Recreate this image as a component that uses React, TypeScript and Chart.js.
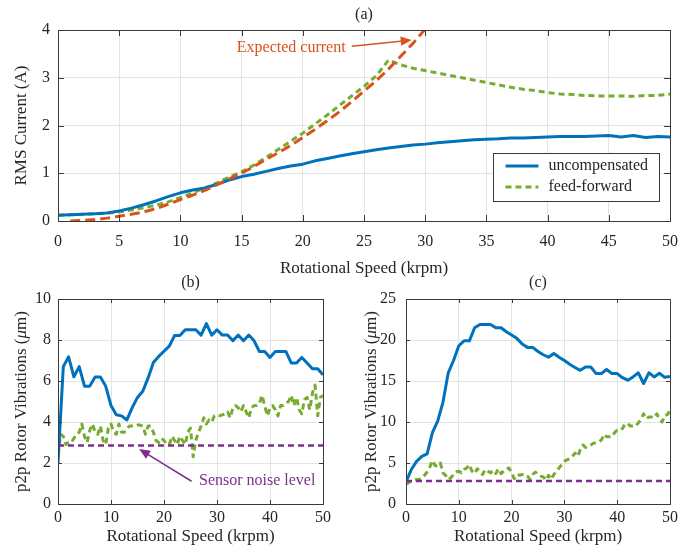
import React, { useEffect, useRef } from 'react';
import { Chart, registerables } from 'chart.js';

Chart.register(...registerables);

const SERIF = '"Liberation Serif", "Times New Roman", Times, serif';
const TEXT = '#262626';
const GRID = '#e4e4e4';
const BOX = '#3a3a3a';
const BLUE = '#0072BD';
const GREEN = '#77AC30';
const ORANGE = '#D95319';
const PURPLE = '#7E2F8E';

// ---------------- (a) RMS current ----------------
const A_SPEED = [0, 1, 2, 3, 4, 5, 6, 7, 8, 9, 10, 11, 12, 13, 14, 15, 16, 17, 18, 19, 20, 21, 22, 23, 24, 25, 26, 27, 28, 29, 30, 31, 32, 33, 34, 35, 36, 37, 38, 39, 40, 41, 42, 43, 44, 45, 46, 47, 48, 49, 50];
const A_UNCOMP = [0.12, 0.13, 0.14, 0.15, 0.17, 0.21, 0.27, 0.34, 0.42, 0.51, 0.59, 0.65, 0.69, 0.77, 0.86, 0.93, 0.98, 1.04, 1.1, 1.15, 1.19, 1.26, 1.31, 1.36, 1.41, 1.45, 1.49, 1.53, 1.56, 1.59, 1.61, 1.64, 1.66, 1.68, 1.7, 1.71, 1.72, 1.74, 1.74, 1.75, 1.76, 1.77, 1.77, 1.77, 1.78, 1.79, 1.76, 1.79, 1.75, 1.77, 1.76];
const A_FEEDFWD = [0.12, 0.13, 0.14, 0.15, 0.16, 0.19, 0.23, 0.28, 0.33, 0.4, 0.49, 0.59, 0.69, 0.8, 0.92, 1.03, 1.17, 1.33, 1.5, 1.67, 1.84, 2.03, 2.22, 2.42, 2.62, 2.82, 3.04, 3.37, 3.27, 3.2, 3.15, 3.1, 3.05, 3.0, 2.95, 2.9, 2.85, 2.8, 2.76, 2.73, 2.69, 2.66, 2.65, 2.63, 2.62, 2.62, 2.62, 2.61, 2.63, 2.63, 2.66];
const A_EXP_SPEED = [1, 2, 3, 4, 5, 6, 7, 8, 9, 10, 11, 12, 13, 14, 15, 16, 17, 18, 19, 20, 21, 22, 23, 24, 25, 26, 27, 28, 29, 30];
const A_EXPECTED = [0.0, 0.01, 0.03, 0.06, 0.1, 0.14, 0.19, 0.26, 0.35, 0.45, 0.54, 0.64, 0.76, 0.88, 1.0, 1.14, 1.29, 1.43, 1.58, 1.75, 1.92, 2.1, 2.29, 2.5, 2.72, 2.94, 3.18, 3.45, 3.72, 4.02];

// ---------------- (b) rotor vibrations ----------------
const B_SPEED = [0, 1, 2, 3, 4, 5, 6, 7, 8, 9, 10, 11, 12, 13, 14, 15, 16, 17, 18, 19, 20, 21, 22, 23, 24, 25, 26, 27, 28, 29, 30, 31, 32, 33, 34, 35, 36, 37, 38, 39, 40, 41, 42, 43, 44, 45, 46, 47, 48, 49, 50];
const B_UNCOMP = [2.0, 6.7, 7.18, 6.2, 6.7, 5.75, 5.75, 6.2, 6.2, 5.75, 4.8, 4.35, 4.3, 4.1, 4.7, 5.2, 5.5, 6.15, 6.9, 7.2, 7.45, 7.7, 8.22, 8.22, 8.5, 8.5, 8.5, 8.24, 8.8, 8.24, 8.5, 8.24, 8.24, 7.96, 8.24, 7.96, 8.24, 7.96, 7.44, 7.44, 7.15, 7.44, 7.44, 7.44, 6.88, 6.88, 7.15, 6.88, 6.6, 6.6, 6.3];
const HALF_SPEED = [0, 0.5, 1, 1.5, 2, 2.5, 3, 3.5, 4, 4.5, 5, 5.5, 6, 6.5, 7, 7.5, 8, 8.5, 9, 9.5, 10, 10.5, 11, 11.5, 12, 12.5, 13, 13.5, 14, 14.5, 15, 15.5, 16, 16.5, 17, 17.5, 18, 18.5, 19, 19.5, 20, 20.5, 21, 21.5, 22, 22.5, 23, 23.5, 24, 24.5, 25, 25.5, 26, 26.5, 27, 27.5, 28, 28.5, 29, 29.5, 30, 30.5, 31, 31.5, 32, 32.5, 33, 33.5, 34, 34.5, 35, 35.5, 36, 36.5, 37, 37.5, 38, 38.5, 39, 39.5, 40, 40.5, 41, 41.5, 42, 42.5, 43, 43.5, 44, 44.5, 45, 45.5, 46, 46.5, 47, 47.5, 48, 48.5, 49, 49.5, 50];
const B_FEEDFWD = [2.4, 3.4, 3.3, 2.9, 3.0, 3.0, 3.2, 3.4, 3.5, 3.9, 3.3, 3.0, 3.6, 3.9, 3.5, 3.4, 3.8, 3.1, 2.9, 3.7, 3.9, 3.5, 3.4, 3.9, 3.5, 3.5, 3.7, 3.8, 3.8, 3.8, 3.85, 3.85, 3.8, 3.4, 3.8, 3.8, 3.5, 3.1, 3.0, 3.2, 3.1, 2.9, 2.9, 3.3, 3.1, 2.9, 3.3, 3.1, 2.9, 3.5, 3.7, 2.3, 3.1, 3.5, 3.8, 4.2, 3.9, 4.1, 4.0, 4.3, 4.3, 4.3, 4.35, 4.4, 4.5, 4.2, 4.7, 4.8, 4.7, 4.5, 4.8, 4.5, 4.2, 4.7, 4.8, 4.8, 4.9, 5.3, 4.8, 4.3, 4.7, 4.8, 4.6, 4.3, 4.8, 4.8, 4.9, 5.0, 5.3, 4.8, 5.2, 4.6, 4.4, 5.1, 5.2, 4.6, 5.4, 5.8, 4.3, 5.2, 5.3];
const NOISE_SPEED = [0, 50];
const B_NOISE = [2.85, 2.85];

// ---------------- (c) rotor vibrations ----------------
const C_SPEED = [0, 1, 2, 3, 4, 5, 6, 7, 8, 9, 10, 11, 12, 13, 14, 15, 16, 17, 18, 19, 20, 21, 22, 23, 24, 25, 26, 27, 28, 29, 30, 31, 32, 33, 34, 35, 36, 37, 38, 39, 40, 41, 42, 43, 44, 45, 46, 47, 48, 49, 50];
const C_UNCOMP = [2.7, 4.2, 5.2, 5.8, 6.1, 8.7, 10.1, 12.4, 16.0, 17.5, 19.3, 19.9, 19.9, 21.5, 21.9, 21.9, 21.9, 21.5, 21.5, 21.0, 20.6, 20.2, 19.5, 19.1, 19.1, 18.6, 18.2, 17.9, 18.35, 17.9, 17.5, 17.05, 16.65, 16.3, 16.7, 16.7, 15.9, 15.9, 16.4, 15.9, 15.9, 15.4, 15.1, 15.5, 16.0, 14.7, 16.0, 15.5, 15.95, 15.45, 15.55];
const C_FEEDFWD = [2.4, 2.6, 2.8, 2.9, 3.0, 3.0, 3.2, 3.5, 3.9, 4.5, 5.3, 4.7, 4.6, 5.0, 3.8, 3.5, 3.0, 3.2, 3.6, 3.9, 4.0, 3.8, 4.2, 4.4, 4.8, 4.0, 3.7, 4.3, 4.0, 3.6, 4.2, 4.0, 3.8, 4.1, 3.7, 4.3, 3.7, 4.0, 4.3, 4.4, 3.8, 3.1, 3.6, 3.5, 3.6, 3.6, 3.4, 3.0, 3.6, 3.9, 3.6, 3.4, 3.3, 2.9, 3.5, 3.0, 3.6, 4.0, 4.4, 4.8, 5.2, 5.4, 5.5, 5.8, 6.2, 5.8, 6.6, 7.2, 6.9, 7.1, 7.2, 7.4, 7.5, 7.6, 7.8, 8.5, 8.2, 8.2, 8.2, 8.7, 9.0, 9.0, 9.2, 9.8, 9.8, 9.5, 9.5, 9.5, 9.9, 10.3, 11.0, 10.4, 10.6, 10.6, 10.5, 11.0, 10.4, 10.0, 10.8, 10.9, 11.4];
const C_NOISE = [2.8, 2.8];

// ---------------- annotations (data coordinates) ----------------
const A_NOTE_TEXT = 'Expected current';
const A_NOTE_AT = [23.5, 3.62];
const A_ARROW_FROM = [24.0, 3.66];
const A_ARROW_TO = [28.9, 3.79];
const B_NOTE_TEXT = 'Sensor noise level';
const B_NOTE_AT = [26.6, 1.11];
const B_ARROW_FROM = [25.2, 1.11];
const B_ARROW_TO = [15.3, 2.68];
const LEGEND_LABELS = ['uncompensated', 'feed-forward'];

const zip = (xs: number[], ys: number[]) => ys.map((y, i) => ({ x: xs[i], y }));

type Part = { text: string; italic?: boolean };
interface Panel {
  key: string;
  left: number; top: number; width: number; height: number;
  area: { left: number; right: number; top: number; bottom: number };
  title: string; titleY: number;
  yTitle: Part[]; yTitleX: number;
  xMax: number; xStep: number; yMax: number; yStep: number;
  tickLen: number; yTickPad: number; xTickPad: number; xTitlePad: number;
  datasets: any[];
  extra?: (chart: any, ctx: CanvasRenderingContext2D) => void;
}

function line(ctx: CanvasRenderingContext2D, x1: number, y1: number, x2: number, y2: number) {
  ctx.beginPath(); ctx.moveTo(x1, y1); ctx.lineTo(x2, y2); ctx.stroke();
}

function arrow(ctx: CanvasRenderingContext2D, x1: number, y1: number, x2: number, y2: number, color: string, head: number) {
  const a = Math.atan2(y2 - y1, x2 - x1);
  const c = Math.cos(a), s = Math.sin(a);
  ctx.save();
  ctx.strokeStyle = color; ctx.fillStyle = color; ctx.lineWidth = 1.5; ctx.setLineDash([]);
  line(ctx, x1, y1, x2 - c * head * 0.8, y2 - s * head * 0.8);
  const w = head * 0.42;
  ctx.beginPath();
  ctx.moveTo(x2, y2);
  ctx.lineTo(x2 - c * head + s * w, y2 - s * head - c * w);
  ctx.lineTo(x2 - c * head - s * w, y2 - s * head + c * w);
  ctx.closePath(); ctx.fill();
  ctx.restore();
}

function framePlugin(p: Panel) {
  return {
    id: 'matlabFrame_' + p.key,
    afterDatasetsDraw(chart: any) {
      const ctx: CanvasRenderingContext2D = chart.ctx;
      const { left, right, top, bottom } = chart.chartArea;
      const xs = chart.scales.x, ys = chart.scales.y;
      const L = p.tickLen;
      ctx.save();
      ctx.strokeStyle = BOX; ctx.lineWidth = 1; ctx.setLineDash([]);
      xs.ticks.forEach((t: any) => {
        const px = Math.round(xs.getPixelForValue(t.value)) + 0.5;
        line(ctx, px, bottom, px, bottom - L);
        line(ctx, px, top, px, top + L);
      });
      ys.ticks.forEach((t: any) => {
        const py = Math.round(ys.getPixelForValue(t.value)) + 0.5;
        line(ctx, left, py, left + L, py);
        line(ctx, right, py, right - L, py);
      });
      ctx.strokeRect(Math.round(left) + 0.5, Math.round(top) + 0.5, Math.round(right - left), Math.round(bottom - top));
      ctx.restore();
    },
    afterDraw(chart: any) {
      const ctx: CanvasRenderingContext2D = chart.ctx;
      const { left, right, top, bottom } = chart.chartArea;
      ctx.save();
      ctx.fillStyle = TEXT;
      ctx.font = `16px ${SERIF}`;
      ctx.textAlign = 'center'; ctx.textBaseline = 'middle';
      ctx.fillText(p.title, (left + right) / 2, p.titleY);
      ctx.translate(p.yTitleX, (top + bottom) / 2);
      ctx.rotate(-Math.PI / 2);
      let total = 0;
      p.yTitle.forEach((pt) => { ctx.font = `${pt.italic ? 'italic ' : ''}17px ${SERIF}`; total += ctx.measureText(pt.text).width; });
      let cx = -total / 2;
      ctx.textAlign = 'left';
      p.yTitle.forEach((pt) => {
        ctx.font = `${pt.italic ? 'italic ' : ''}17px ${SERIF}`;
        ctx.fillText(pt.text, cx, 0);
        cx += ctx.measureText(pt.text).width;
      });
      ctx.restore();
      if (p.extra) { ctx.save(); p.extra(chart, ctx); ctx.restore(); }
    },
  };
}

function buildConfig(p: Panel): any {
  const tickFont = { family: SERIF, size: 16 };
  return {
    type: 'line',
    data: { datasets: p.datasets },
    options: {
      responsive: false,
      animation: false,
      devicePixelRatio: 1,
      layout: { padding: { left: 0, top: p.area.top, right: p.width - p.area.right, bottom: 0 } },
      plugins: { legend: { display: false }, tooltip: { enabled: false }, title: { display: false } },
      elements: { point: { radius: 0 }, line: { tension: 0 } },
      scales: {
        x: {
          type: 'linear', min: 0, max: p.xMax,
          ticks: { stepSize: p.xStep, padding: p.xTickPad, color: TEXT, font: tickFont, maxRotation: 0, autoSkip: false },
          grid: { color: GRID, drawTicks: false },
          border: { display: false },
          title: { display: true, text: 'Rotational Speed (krpm)', color: TEXT, font: { family: SERIF, size: 17 }, padding: { top: 0, bottom: p.xTitlePad } },
          afterFit: (s: any) => { s.height = p.height - p.area.bottom; },
        },
        y: {
          type: 'linear', min: 0, max: p.yMax,
          ticks: { stepSize: p.yStep, padding: p.yTickPad, color: TEXT, font: tickFont },
          grid: { color: GRID, drawTicks: false },
          border: { display: false },
          afterFit: (s: any) => { s.width = p.area.left; },
        },
      },
    },
    plugins: [framePlugin(p)],
  };
}

const lineDs = (data: any[], color: string, width: number, dash: number[]) => ({
  data, borderColor: color, backgroundColor: color, borderWidth: width, borderDash: dash,
  fill: false, pointRadius: 0, borderCapStyle: 'butt', borderJoinStyle: 'round',
});

const PANEL_A: Panel = {
  key: 'a', left: 0, top: 0, width: 694, height: 280,
  area: { left: 58, right: 670, top: 30, bottom: 221 },
  title: '(a)', titleY: 15,
  yTitle: [{ text: 'RMS Current (A)' }], yTitleX: 22,
  xMax: 50, xStep: 5, yMax: 4, yStep: 1,
  tickLen: 6, yTickPad: 8, xTickPad: 11, xTitlePad: 1,
  datasets: [
    lineDs(zip(A_EXP_SPEED, A_EXPECTED), ORANGE, 3, [10, 5]),
    lineDs(zip(A_SPEED, A_UNCOMP), BLUE, 3, []),
    lineDs(zip(A_SPEED, A_FEEDFWD), GREEN, 3, [6, 4]),
  ],
  extra: (chart, ctx) => {
    const xs = chart.scales.x, ys = chart.scales.y;
    ctx.fillStyle = ORANGE;
    ctx.font = `16px ${SERIF}`;
    ctx.textAlign = 'right'; ctx.textBaseline = 'middle';
    ctx.fillText(A_NOTE_TEXT, xs.getPixelForValue(A_NOTE_AT[0]), ys.getPixelForValue(A_NOTE_AT[1]));
    arrow(ctx, xs.getPixelForValue(A_ARROW_FROM[0]), ys.getPixelForValue(A_ARROW_FROM[1]),
      xs.getPixelForValue(A_ARROW_TO[0]), ys.getPixelForValue(A_ARROW_TO[1]), ORANGE, 11);
    const { right, bottom } = chart.chartArea;
    const bw = 166, bh = 48;
    const bx = Math.round(right - 11 - bw) + 0.5, by = Math.round(bottom - 20 - bh) + 0.5;
    ctx.fillStyle = '#ffffff';
    ctx.fillRect(bx, by, bw, bh);
    ctx.strokeStyle = BOX; ctx.lineWidth = 1; ctx.setLineDash([]);
    ctx.strokeRect(bx, by, bw, bh);
    const items = [
      { label: LEGEND_LABELS[0], color: BLUE, dash: [] as number[] },
      { label: LEGEND_LABELS[1], color: GREEN, dash: [6, 4] },
    ];
    items.forEach((it, i) => {
      const y = by + 12.5 + i * 21;
      ctx.strokeStyle = it.color; ctx.lineWidth = 3; ctx.setLineDash(it.dash);
      line(ctx, bx + 12, y, bx + 45, y);
      ctx.setLineDash([]);
      ctx.fillStyle = TEXT; ctx.font = `16px ${SERIF}`;
      ctx.textAlign = 'left'; ctx.textBaseline = 'middle';
      ctx.fillText(it.label, bx + 55, y);
    });
  },
};

const VIB_TITLE: Part[] = [{ text: 'p2p Rotor Vibrations (' }, { text: 'μ', italic: true }, { text: 'm)' }];

const PANEL_B: Panel = {
  key: 'b', left: 0, top: 262, width: 347, height: 286,
  area: { left: 58, right: 323, top: 37, bottom: 242 },
  title: '(b)', titleY: 21,
  yTitle: VIB_TITLE, yTitleX: 22,
  xMax: 50, xStep: 10, yMax: 10, yStep: 2,
  tickLen: 4, yTickPad: 7, xTickPad: 4, xTitlePad: 1,
  datasets: [
    lineDs(zip(NOISE_SPEED, B_NOISE), PURPLE, 2.5, [6, 4]),
    lineDs(zip(B_SPEED, B_UNCOMP), BLUE, 3, []),
    lineDs(zip(HALF_SPEED, B_FEEDFWD), GREEN, 3, [6, 4]),
  ],
  extra: (chart, ctx) => {
    const xs = chart.scales.x, ys = chart.scales.y;
    ctx.fillStyle = PURPLE;
    ctx.font = `16px ${SERIF}`;
    ctx.textAlign = 'left'; ctx.textBaseline = 'middle';
    ctx.fillText(B_NOTE_TEXT, xs.getPixelForValue(B_NOTE_AT[0]), ys.getPixelForValue(B_NOTE_AT[1]));
    arrow(ctx, xs.getPixelForValue(B_ARROW_FROM[0]), ys.getPixelForValue(B_ARROW_FROM[1]),
      xs.getPixelForValue(B_ARROW_TO[0]), ys.getPixelForValue(B_ARROW_TO[1]), PURPLE, 11);
  },
};

const PANEL_C: Panel = {
  key: 'c', left: 347, top: 262, width: 347, height: 286,
  area: { left: 59, right: 323, top: 37, bottom: 242 },
  title: '(c)', titleY: 21,
  yTitle: VIB_TITLE, yTitleX: 25,
  xMax: 50, xStep: 10, yMax: 25, yStep: 5,
  tickLen: 4, yTickPad: 10, xTickPad: 4, xTitlePad: 1,
  datasets: [
    lineDs(zip(NOISE_SPEED, C_NOISE), PURPLE, 2.5, [6, 4]),
    lineDs(zip(C_SPEED, C_UNCOMP), BLUE, 3, []),
    lineDs(zip(HALF_SPEED, C_FEEDFWD), GREEN, 3, [6, 4]),
  ],
};

function PanelChart({ panel }: { panel: Panel }) {
  const ref = useRef<HTMLCanvasElement>(null);
  useEffect(() => {
    if (!ref.current) return;
    const chart = new Chart(ref.current, buildConfig(panel));
    return () => chart.destroy();
  }, [panel]);
  return (
    <canvas
      ref={ref}
      width={panel.width}
      height={panel.height}
      style={{ position: 'absolute', left: panel.left, top: panel.top, width: panel.width, height: panel.height }}
    />
  );
}

export default function App() {
  return (
    <div style={{ position: 'fixed', left: 0, top: 0, width: 694, height: 548, background: '#ffffff', overflow: 'hidden' }}>
      <PanelChart panel={PANEL_A} />
      <PanelChart panel={PANEL_B} />
      <PanelChart panel={PANEL_C} />
    </div>
  );
}
